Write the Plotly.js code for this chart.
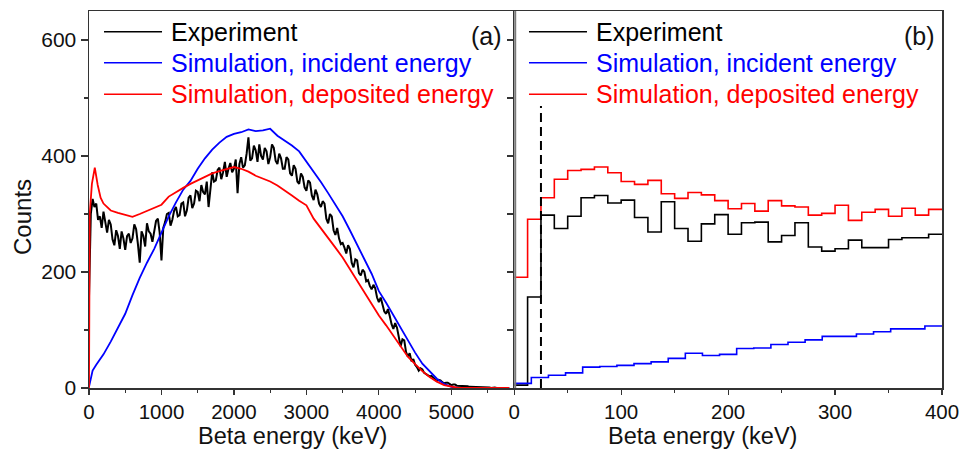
<!DOCTYPE html>
<html><head><meta charset="utf-8">
<script src="https://cdn.plot.ly/plotly-3.0.1.min.js"></script>
<style>html,body{margin:0;padding:0;background:#fff}#chart{width:972px;height:449px}</style>
</head><body><div id="chart"></div>
<script>
// ---------- data: panel (a), full spectrum ----------
const expBinWidth = 25; // keV
const expCounts = [
 158,300,326,312,318,290,296,276,304,284,
 268,290,282,256,246,272,262,240,270,258,
 238,262,266,250,258,282,274,248,216,270,
 262,244,284,270,266,252,270,288,292,268,
 220,276,286,300,302,280,290,306,312,296,
 298,318,320,296,306,328,332,310,318,340,
 338,322,350,338,334,356,312,348,372,356,
 358,376,380,360,372,390,364,378,388,372,
 378,394,336,386,398,380,384,404,432,392,
 396,418,410,390,420,400,394,414,408,386,
 398,420,414,392,386,404,396,378,378,398,
 394,370,366,384,378,356,352,370,364,346,
 340,358,354,332,324,342,334,318,312,322,
 318,292,284,300,296,272,264,276,258,248,
 250,242,232,246,240,216,208,222,220,198,
 194,204,200,184,186,176,170,178,172,156,
 148,156,146,132,128,136,124,110,102,112,
 104,86,72,84,82,62,54,60,46,50,
 40,36,30,34,32,26,24,22,20,21,
 18,15,12,14,13,10,8,9,9,7,
 5,6,6,4,4,3,3,4,4,3,
 2,2,2,2,1,2,2,1,1,1,
 1,1,0,1,1,0,0];
const incE = [0,50,100,200,300,400,500,600,700,800,900,1000,1100,1200,1300,1400,1500,1600,1700,1800,1900,2000,2100,2200,2300,2400,2500,2600,2700,2800,2900,3000,3100,3200,3300,3400,3500,3600,3700,3800,3900,4000,4100,4200,4300,4400,4500,4600,4700,4800,4900,5000,5100,5800];
const incCounts = [2,30,40,58,80,103,128,160,190,216,240,268,296,320,342,357,378,396,411,423,433,438,441,446,443,444,447,435,427,418,408,391,372,355,336,316,296,272,248,222,197,167,147,125,103,82,61,42,29,16,7,2,0,0];
const depE = [0,10,40,80,120,160,200,300,400,500,600,700,800,900,1000,1100,1200,1300,1400,1500,1600,1700,1800,1900,2000,2100,2200,2300,2400,2500,2600,2700,2800,2900,3000,3100,3200,3300,3400,3500,3600,3700,3800,3900,4000,4100,4200,4300,4400,4500,4600,4700,4800,4900,5000,5100,5800];
const depCounts = [0,300,352,380,350,328,318,306,302,298,295,300,305,311,316,330,338,345,352,358,364,370,374,378,381,378,373,366,361,356,349,341,332,323,315,292,276,259,242,225,205,185,164,144,125,108,90,72,54,41,29,19,11,5,2,0,0];

// ---------- data: panel (b), low-energy zoom ----------
const lowBinWidth = 12.5; // keV
const expLow = [5,157,298,275,296,328,332,319,324,294,269,321,275,253,283,299,265,285,286,252,263,285,243,236,240,255,242,242,256,259,259,265];
const depLow = [191,291,328,360,375,377,381,371,356,351,358,335,327,337,333,323,309,318,305,323,314,312,298,301,315,289,303,308,296,310,298,308];
const incLowBinWidth = 16; // keV
const incLow = [8,18,22,26,36,37,39,42,45,51,60,56,58,68,69,75,79,83,89,89,93,97,102,102,107];
const thresholdE = 25;      // keV, dashed line
const thresholdTop = 486;   // counts

// ---------- labels ----------
const seriesNames = ['Experiment', 'Simulation, incident energy', 'Simulation, deposited energy'];
const seriesColors = ['#000000', '#0000ff', '#ff0000'];
const xTicksA = [0,1000,2000,3000,4000,5000];
const xMinorA = [500,1500,2500,3500,4500,5500];
const xTicksB = [0,100,200,300,400];
const xMinorB = [50,150,250,350];
const yTicks = [0,200,400,600];
const yMinor = [100,300,500];
const yTicksB = [100,200,300,400,500,600];
const xTitle = 'Beta energy (keV)';
const yTitle = 'Counts';
const panelLabels = ['(a)', '(b)'];

function steps(values, width){
  const x = [], y = [];
  values.forEach((v,i)=>{ x.push(i*width); y.push(v); });
  x.push(values.length*width); y.push(values[values.length-1]);
  return {x, y};
}

const expA = steps(expCounts, expBinWidth);
const expB = steps(expLow, lowBinWidth);
const depB = steps(depLow, lowBinWidth);
const incB = steps(incLow, incLowBinWidth);

const traces = [
  {x: expA.x, y: expA.y, type:'scatter', mode:'lines', line:{color:seriesColors[0], width:2}, name: seriesNames[0], xaxis:'x', yaxis:'y'},
  {x: incE, y: incCounts, type:'scatter', mode:'lines', line:{color:seriesColors[1], width:1.8}, name: seriesNames[1], xaxis:'x', yaxis:'y'},
  {x: depE, y: depCounts, type:'scatter', mode:'lines', line:{color:seriesColors[2], width:1.8}, name: seriesNames[2], xaxis:'x', yaxis:'y'},
  {x: expB.x, y: expB.y, type:'scatter', mode:'lines', line:{color:seriesColors[0], width:1.6, shape:'hv'}, name: seriesNames[0], xaxis:'x2', yaxis:'y2'},
  {x: incB.x, y: incB.y, type:'scatter', mode:'lines', line:{color:seriesColors[1], width:1.6, shape:'hv'}, name: seriesNames[1], xaxis:'x2', yaxis:'y2'},
  {x: depB.x, y: depB.y, type:'scatter', mode:'lines', line:{color:seriesColors[2], width:1.6, shape:'hv'}, name: seriesNames[2], xaxis:'x2', yaxis:'y2'},
  {x: [thresholdE, thresholdE], y: [0, thresholdTop], type:'scatter', mode:'lines', line:{color:'#000', width:2, dash:'9px,5px'}, name:'threshold', xaxis:'x2', yaxis:'y2'}
];

const FONT = 'Arial, "Liberation Sans", sans-serif';
const AX = '#333333';
const baseAxis = {showgrid:false, zeroline:false, showline:true, linecolor:AX, linewidth:1.5,
  ticks:'outside', ticklen:7, tickwidth:1.2, tickcolor:AX, tickfont:{size:21, color:'#111'}};

// legend drawn as line samples + coloured labels (paper coordinates)
const legendRows = [0.9451, 0.8629, 0.7790];
const legendBlocks = [{x0:0.0176, x1:0.0856, tx:0.0938}, {x0:0.5158, x1:0.5838, tx:0.5920}];
const shapes = [
  {type:'line', xref:'x2', yref:'y2 domain', x0:0, x1:0, y0:0, y1:1, line:{color:'#7a7a7a', width:4}, layer:'above'}
];
const annotations = [
  {text:panelLabels[0], xref:'x domain', yref:'y domain', x:0.979, y:0.934, xanchor:'right', yanchor:'middle', showarrow:false, font:{size:25, color:'#111'}},
  {text:panelLabels[1], xref:'x2 domain', yref:'y2 domain', x:0.988, y:0.934, xanchor:'right', yanchor:'middle', showarrow:false, font:{size:25, color:'#111'}},
  {text:xTitle, xref:'paper', yref:'paper', x:0.2386, y:-0.1645, xanchor:'center', yanchor:'bottom', showarrow:false, borderpad:0, font:{size:23.5, color:'#111'}},
  {text:xTitle, xref:'paper', yref:'paper', x:0.7192, y:-0.1645, xanchor:'center', yanchor:'bottom', showarrow:false, borderpad:0, font:{size:23.5, color:'#111'}},
  {text:yTitle, xref:'paper', yref:'paper', x:-0.0774, y:0.4536, xanchor:'center', yanchor:'middle', textangle:-90, showarrow:false, font:{size:24, color:'#111'}}
];
legendBlocks.forEach(b => {
  seriesNames.forEach((n, i) => {
    shapes.push({type:'line', xref:'paper', yref:'paper', x0:b.x0, x1:b.x1, y0:legendRows[i], y1:legendRows[i], line:{color:seriesColors[i], width:1.6}});
    annotations.push({text:n, xref:'paper', yref:'paper', x:b.tx, y:legendRows[i], xanchor:'left', yanchor:'middle', showarrow:false, font:{size:25, color:seriesColors[i]}});
  });
});

const xTickFont = {size:20.5, color:'#111'};
const layout = {
  width:972, height:449,
  margin:{l:89, r:30, t:11, b:61, pad:0},
  paper_bgcolor:'#fff', plot_bgcolor:'#fff',
  font:{family:FONT, size:21, color:'#111'},
  showlegend:false,
  xaxis: Object.assign({}, baseAxis, {domain:[0,0.497], range:[0,5850], tickvals:xTicksA, mirror:true, ticklen:5, tickfont:xTickFont,
    minor:{tickvals:xMinorA, ticks:'outside', ticklen:3, tickcolor:AX, showgrid:false}, anchor:'y'}),
  yaxis: Object.assign({}, baseAxis, {domain:[0,1], range:[0,650], tickvals:yTicks, mirror:true,
    minor:{tickvals:yMinor, ticks:'outside', ticklen:4, tickcolor:AX, showgrid:false}, anchor:'x'}),
  xaxis2: Object.assign({}, baseAxis, {domain:[0.4985,1], range:[0,400], tickvals:xTicksB, mirror:true, ticklen:5, tickfont:xTickFont,
    minor:{tickvals:xMinorB, ticks:'outside', ticklen:3, tickcolor:AX, showgrid:false}, anchor:'y2'}),
  yaxis2: Object.assign({}, baseAxis, {domain:[0,1], range:[0,650], tickvals:yTicksB, showticklabels:false, mirror:true, ticklen:6, anchor:'x2'}),
  shapes: shapes,
  annotations: annotations
};

Plotly.newPlot('chart', traces, layout, {staticPlot:true, displayModeBar:false});
</script></body></html>
